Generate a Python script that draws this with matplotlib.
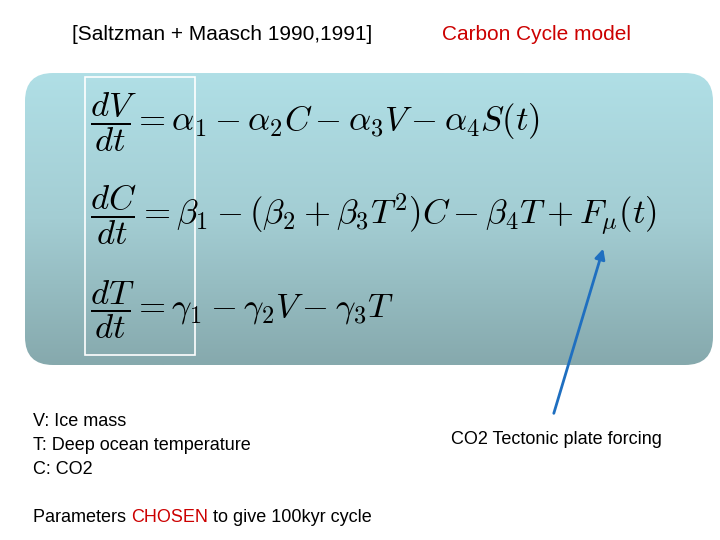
import numpy as np
import matplotlib
matplotlib.use("Agg")
import matplotlib.pyplot as plt
from matplotlib.patches import FancyBboxPatch, Rectangle

plt.rcParams["mathtext.fontset"] = "cm"
plt.rcParams["font.family"] = ["Liberation Sans", "DejaVu Sans"]

title_left = "[Saltzman + Maasch 1990,1991]"
title_right = "Carbon Cycle model"
equations = [
    r"$\dfrac{dV}{dt} = \alpha_1 - \alpha_2 C - \alpha_3 V - \alpha_4 S(t)$",
    r"$\dfrac{dC}{dt} = \beta_1 - (\beta_2 + \beta_3 T^2)C - \beta_4 T + F_\mu(t)$",
    r"$\dfrac{dT}{dt} = \gamma_1 - \gamma_2 V - \gamma_3 T$",
]
eq_y = [122, 215, 310]
legend_lines = ["V: Ice mass", "T: Deep ocean temperature", "C: CO2"]
param_parts = [("Parameters ", "black"), ("CHOSEN", "#cc0000"), (" to give 100kyr cycle", "black")]
forcing_label = "CO2 Tectonic plate forcing"

fig = plt.figure(figsize=(7.2, 5.4), dpi=100)
ax = fig.add_axes([0, 0, 1, 1])
ax.set_xlim(0, 720)
ax.set_ylim(540, 0)
ax.axis("off")

# gradient rounded box
box = FancyBboxPatch((25, 73), 688, 292, boxstyle="round,pad=0,rounding_size=28",
                     fc="none", ec="none")
ax.add_patch(box)
grad = np.linspace(0, 1, 256)[:, None]
cmap = matplotlib.colors.LinearSegmentedColormap.from_list("g", ["#b0dfe6", "#a3cdd3", "#86a9ad"])
im = ax.imshow(grad, extent=(25, 713, 365, 73), cmap=cmap, aspect="auto", zorder=1)
im.set_clip_path(box)
ax.add_patch(Rectangle((85, 77), 110, 278, fc="none", ec="white", lw=1.2, zorder=2))

ax.text(222, 35, title_left, fontsize=15, ha="center", va="center", color="black")
ax.text(537, 35, title_right, fontsize=15, ha="center", va="center", color="#cc0000")

for y, eq in zip(eq_y, equations):
    ax.text(90, y, eq, fontsize=25, ha="left", va="center", zorder=3)

for i, s in enumerate(legend_lines):
    ax.text(33, 422 + i * 24, s, fontsize=13, ha="left", va="center")

# sentence with one red word, placed piece by piece
renderer = fig.canvas.get_renderer()
x = 33
for s, c in param_parts:
    t = ax.text(x, 518, s, fontsize=13, ha="left", va="center", color=c)
    bb = t.get_window_extent(renderer=renderer)
    x += bb.width

ax.text(556, 439, forcing_label, fontsize=13, ha="center", va="center")
ax.annotate("", xy=(604, 246), xytext=(553, 416),
            arrowprops=dict(arrowstyle="-|>", color="#1f6fc0", lw=2, mutation_scale=15), zorder=4)

fig.savefig("out.png", dpi=100)
